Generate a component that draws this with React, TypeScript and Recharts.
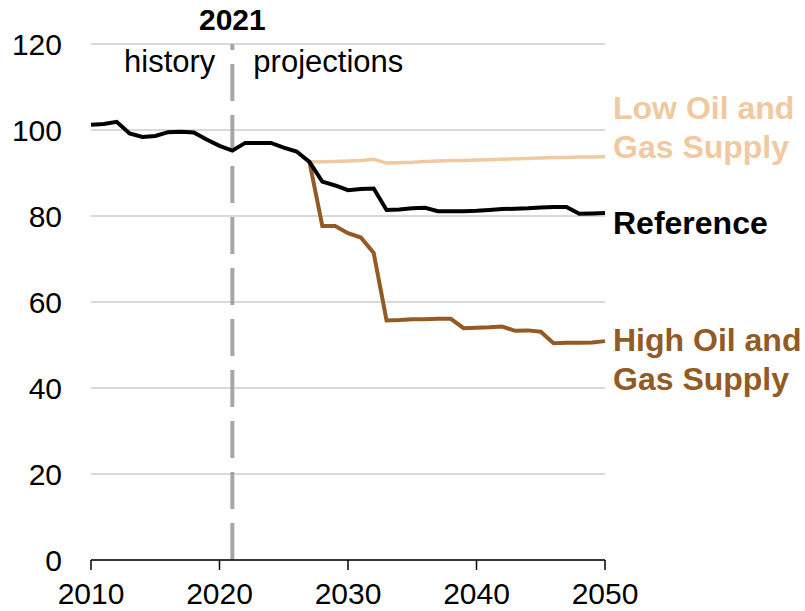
import React from 'react';
import {
  LineChart,
  Line,
  XAxis,
  YAxis,
  CartesianGrid,
  ReferenceLine,
  LabelList,
} from 'recharts';

// years on the x axis
const years = [
  2010, 2011, 2012, 2013, 2014, 2015, 2016, 2017, 2018, 2019, 2020,
  2021, 2022, 2023, 2024, 2025, 2026, 2027, 2028, 2029, 2030,
  2031, 2032, 2033, 2034, 2035, 2036, 2037, 2038, 2039, 2040,
  2041, 2042, 2043, 2044, 2045, 2046, 2047, 2048, 2049, 2050,
];

// Reference case, history + projection
const reference = [
  101.2, 101.4, 101.9, 99.2, 98.4, 98.6, 99.5, 99.6, 99.4, 97.8, 96.3,
  95.2, 97.0, 97.0, 97.0, 95.9, 95.0, 92.6, 88.0, 87.1, 86.0,
  86.3, 86.4, 81.4, 81.5, 81.8, 81.9, 81.1, 81.1, 81.1, 81.2,
  81.4, 81.6, 81.7, 81.8, 82.0, 82.1, 82.1, 80.5, 80.6, 80.7,
];

// side cases start in 2027
const sideCaseStart = 2027;
const lowSupply = [
  92.6, 92.6, 92.7, 92.8, 92.9, 93.2, 92.3, 92.4, 92.5, 92.7, 92.8, 92.9,
  92.9, 93.0, 93.1, 93.2, 93.3, 93.4, 93.5, 93.6, 93.6, 93.7, 93.7, 93.8,
];
const highSupply = [
  92.6, 77.7, 77.7, 76.0, 75.0, 71.4, 55.7, 55.8, 56.0, 56.0, 56.1, 56.1,
  53.9, 54.0, 54.1, 54.3, 53.3, 53.4, 53.1, 50.4, 50.5, 50.5, 50.6, 50.9,
];

const xTicks = [2010, 2020, 2030, 2040, 2050];
const yTicks = [0, 20, 40, 60, 80, 100, 120];
const lastHistoryYear = 2021;

const data = years.map((year, i) => {
  const j = year - sideCaseStart;
  return {
    year,
    reference: reference[i],
    low: j >= 0 ? lowSupply[j] : null,
    high: j >= 0 ? highSupply[j] : null,
  };
});

const LOW_COLOR = '#F0C9A0';
const HIGH_COLOR = '#925A24';
const FONT = "'Liberation Sans', Arial, sans-serif";

// series name drawn next to the last point
const endLabel = (lines: string[], color: string, dy: number) => (props: any) => {
  const { x, y, index } = props;
  if (index !== years.length - 1) return null;
  return (
    <text
      x={x + 8}
      y={y + dy}
      fill={color}
      fontSize={32}
      fontWeight="bold"
      fontFamily={FONT}
    >
      {lines.map((line, k) => (
        <tspan key={k} x={x + 8} dy={k === 0 ? 0 : 39}>
          {line}
        </tspan>
      ))}
    </text>
  );
};

const DividerLabel = (props: any) => {
  const { viewBox } = props;
  const x = viewBox.x;
  return (
    <g fontFamily={FONT} fill="#000">
      <text x={x} y={30} textAnchor="middle" fontWeight="bold" fontSize={30}>
        2021
      </text>
      <text x={x - 17} y={72} textAnchor="end" fontSize={31}>
        history
      </text>
      <text x={x + 21} y={72} textAnchor="start" fontSize={31}>
        projections
      </text>
    </g>
  );
};

export default function App() {
  return (
    <div style={{ position: 'absolute', left: 0, top: 0, background: '#fff' }}>
      <LineChart
        width={805}
        height={611}
        data={data}
        margin={{ top: 44, right: 200, bottom: 0, left: 0 }}
      >
        <CartesianGrid vertical={false} stroke="#D9D9D9" strokeWidth={2} />
        <XAxis
          dataKey="year"
          type="number"
          domain={[2010, 2050]}
          ticks={xTicks}
          height={51}
          tickSize={10}
          tickMargin={13}
          stroke="#000"
          strokeWidth={1.5}
          tick={{ fill: '#000', fontSize: 30, fontFamily: FONT }}
        />
        <YAxis
          domain={[0, 120]}
          ticks={yTicks}
          width={91}
          axisLine={false}
          tickLine={false}
          tickSize={0}
          tickMargin={29}
          tick={{ fill: '#000', fontSize: 30, fontFamily: FONT }}
        />
        <ReferenceLine
          x={lastHistoryYear}
          stroke="#A6A6A6"
          strokeWidth={4}
          strokeDasharray="37 14"
          label={<DividerLabel />}
        />
        <Line
          dataKey="low"
          stroke={LOW_COLOR}
          strokeWidth={3.5}
          dot={false}
          isAnimationActive={false}
        >
          <LabelList content={endLabel(['Low Oil and', 'Gas Supply'], LOW_COLOR, -38)} />
        </Line>
        <Line
          dataKey="high"
          stroke={HIGH_COLOR}
          strokeWidth={4}
          dot={false}
          isAnimationActive={false}
        >
          <LabelList content={endLabel(['High Oil and', 'Gas Supply'], HIGH_COLOR, 10)} />
        </Line>
        <Line
          dataKey="reference"
          stroke="#000"
          strokeWidth={4}
          dot={false}
          isAnimationActive={false}
        >
          <LabelList content={endLabel(['Reference'], '#000', 21)} />
        </Line>
      </LineChart>
    </div>
  );
}
